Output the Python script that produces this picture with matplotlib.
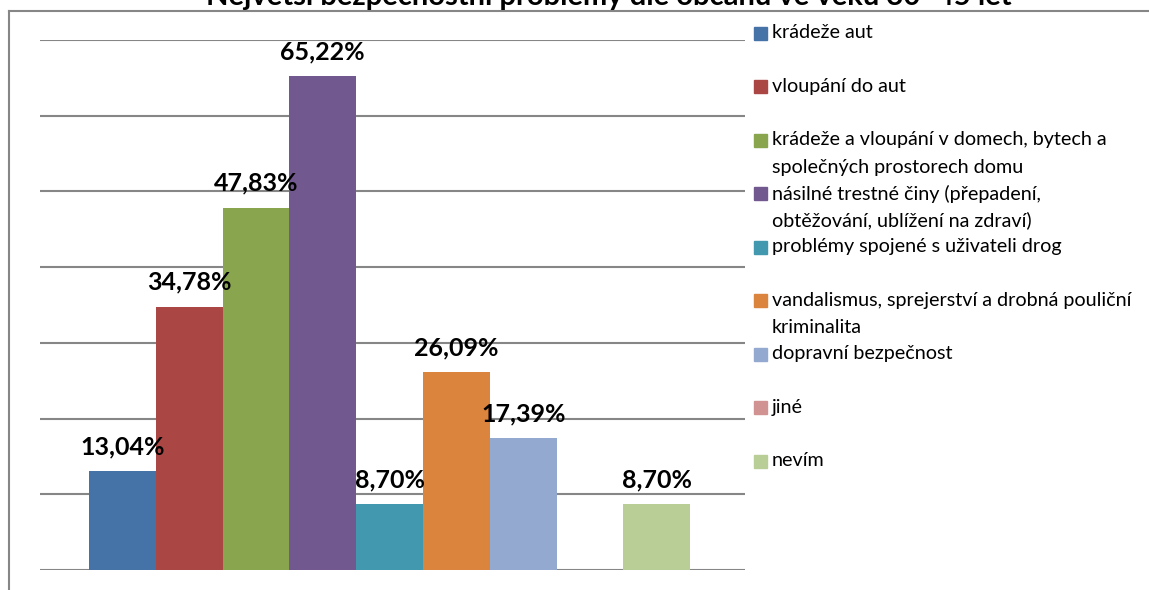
import numpy as np
import matplotlib.pyplot as plt
from matplotlib.patches import Rectangle
from matplotlib.lines import Line2D

plt.rcParams['font.family'] = ['Lato', 'DejaVu Sans']

# data
kategorie = ['krádeže aut',
             'vloupání do aut',
             'krádeže a vloupání v domech, bytech a\nspolečných prostorech domu',
             'násilné trestné činy (přepadení,\nobtěžování, ublížení na zdraví)',
             'problémy spojené s uživateli drog',
             'vandalismus, sprejerství a drobná pouliční\nkriminalita',
             'dopravní bezpečnost',
             'jiné',
             'nevím']
hodnoty = [13.04, 34.78, 47.83, 65.22, 8.70, 26.09, 17.39, 0.0, 8.70]
barvy = ['#4572A7', '#AA4643', '#89A54E', '#71588F', '#4198AF',
         '#DB843D', '#93A9CF', '#D19392', '#B9CD96']
titulek = 'Největší bezpečnostní problémy dle občanů ve věku 30–45 let'

W, H = 1149, 590
fig = plt.figure(figsize=(W / 100, H / 100), dpi=100)
ax = fig.add_axes([40 / W, 1 - 570 / H, 705 / W, 530 / H])

x = np.arange(len(hodnoty))
ax.bar(x, hodnoty, width=1.0, color=barvy, zorder=3)
for xi, v in zip(x, hodnoty):
    if v > 0:
        ax.annotate(f'{v:.2f}%'.replace('.', ','), (xi, v), xytext=(0, 13),
                    textcoords='offset pixels', ha='center', va='bottom',
                    fontsize=18, fontweight='bold', zorder=5)

ax.set_xlim(-1.233, 9.32)
ax.set_ylim(0, 70)
ax.set_yticks(np.arange(0, 71, 10))
ax.yaxis.grid(True, color='#868686', linewidth=1.5, zorder=0)
ax.set_xticks([])
ax.tick_params(left=False, labelleft=False)
for s in ax.spines.values():
    s.set_visible(False)

# legenda
for i, (lab, c) in enumerate(zip(kategorie, barvy)):
    yp = 33 + i * 53.5
    fig.add_artist(Rectangle((754 / W, 1 - (yp + 6.5) / H), 13 / W, 13 / H,
                             transform=fig.transFigure, color=c))
    for k, line in enumerate(lab.split('\n')):
        fig.text(772 / W, 1 - (yp + k * 27) / H, line, fontsize=14.2,
                 ha='left', va='center', color='#000000')

# ramecek grafu
fig.add_artist(Line2D([8.5 / W, 1], [1 - 10.5 / H, 1 - 10.5 / H],
                      transform=fig.transFigure, color='#868686', linewidth=1.5))
fig.add_artist(Line2D([8.5 / W, 8.5 / W], [0, 1 - 10.5 / H],
                      transform=fig.transFigure, color='#868686', linewidth=1.5))

fig.text(609 / W, 1 + 3 / H, titulek, fontsize=21, fontweight='bold',
         ha='center', va='center')

fig.savefig('out.png', dpi=100)
